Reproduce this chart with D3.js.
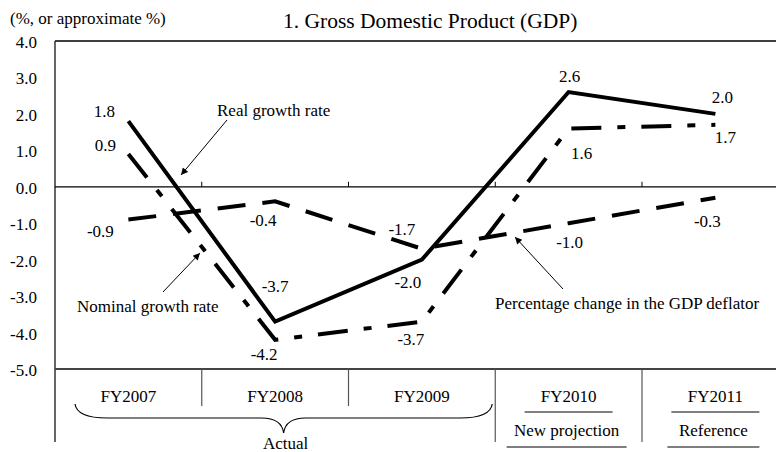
<!DOCTYPE html>
<html><head><meta charset="utf-8">
<script src="https://cdn.jsdelivr.net/npm/d3@7"></script>
<style>
body{margin:0;background:#fff}
svg{display:block}
text{font-family:"Liberation Serif","Times New Roman",serif;fill:#000}
</style>
</head><body>
<svg id="c" width="776" height="452"></svg>
<script>
// ---- data ----
const categories = ["FY2007", "FY2008", "FY2009", "FY2010", "FY2011"];
const realGrowth = [1.8, -3.7, -2.0, 2.6, 2.0];
const nominalGrowth = [0.9, -4.2, -3.7, 1.6, 1.7];
const deflatorChange = [-0.9, -0.4, -1.7, -1.0, -0.3];
const yTicks = [4, 3, 2, 1, 0, -1, -2, -3, -4, -5];
const subLabels = ["", "", "", "New projection", "Reference"];
const actualCategories = ["FY2007", "FY2008", "FY2009"];
const titleText = "1. Gross Domestic Product (GDP)";
const unitText = "(%, or approximate %)";

// ---- layout (pixel offsets of value labels relative to their points) ----
const realLabelOffsets = [[-24, -10], [0, -35], [-14, 23], [1, -16], [7, -16]];
const nominalLabelOffsets = [[-23, -8], [-11, 15], [-11, 18], [13, 25], [10, 13]];
const deflatorLabelOffsets = [[-28, 12], [-12, 19], [-20, -19], [1, 19], [-8, 24]];

(function () {
const svg = d3.select("#c");
const pLeft = 55, pTop = 41, pBottom = 369;
const x = d3.scaleBand().domain(categories).range([pLeft, pLeft + 5 * 146.75]).padding(0);
const y = d3.scaleLinear().domain([-5, 4]).range([pBottom, pTop]);
const cx = c => x(c) + x.bandwidth() / 2;
const pRight = x.range()[1];

// titles
svg.append("text").attr("x", 10).attr("y", 23.5).attr("font-size", 17).text(unitText);
svg.append("text").attr("x", 283).attr("y", 28).attr("font-size", 21.5).text(titleText);

// frame
svg.append("line").attr("x1", pLeft).attr("x2", pRight).attr("y1", pTop).attr("y2", pTop)
  .attr("stroke", "#000").attr("stroke-width", 1.5);
svg.append("line").attr("x1", pLeft).attr("x2", pLeft).attr("y1", pTop).attr("y2", 442)
  .attr("stroke", "#333").attr("stroke-width", 1.5);
svg.append("line").attr("x1", pLeft).attr("x2", pRight).attr("y1", y(-5)).attr("y2", y(-5))
  .attr("stroke", "#444").attr("stroke-width", 2);

// zero line with upward ticks
svg.append("line").attr("x1", pLeft).attr("x2", pRight).attr("y1", y(0)).attr("y2", y(0))
  .attr("stroke", "#000").attr("stroke-width", 1.2);
categories.slice(1).forEach(c => {
  svg.append("line").attr("x1", x(c)).attr("x2", x(c)).attr("y1", y(0) - 5).attr("y2", y(0))
    .attr("stroke", "#000").attr("stroke-width", 1);
});

// y tick labels
svg.selectAll(".ytick").data(yTicks).enter().append("text")
  .attr("class", "ytick").attr("x", 37).attr("y", d => y(d) + 7)
  .attr("text-anchor", "end").attr("font-size", 17)
  .text(d => d.toFixed(1));

// category table
categories.slice(1).forEach((c, i) => {
  const isLong = i >= 2;
  svg.append("line").attr("x1", x(c)).attr("x2", x(c)).attr("y1", y(-5)).attr("y2", isLong ? 442 : 406)
    .attr("stroke", "#555").attr("stroke-width", 1.2);
});
svg.selectAll(".cat").data(categories).enter().append("text")
  .attr("class", "cat").attr("x", d => cx(d)).attr("y", 401.5)
  .attr("text-anchor", "middle").attr("font-size", 17).text(d => d);
const subWidths = [0, 0, 0, 120, 92];
categories.forEach((c, i) => {
  if (!subLabels[i]) return;
  svg.append("line").attr("x1", cx(c) - 44).attr("x2", cx(c) + 44).attr("y1", 412).attr("y2", 412)
    .attr("stroke", "#000").attr("stroke-width", 1.2);
  svg.append("text").attr("x", cx(c) - 2).attr("y", 436).attr("text-anchor", "middle")
    .attr("font-size", 17).text(subLabels[i]);
  svg.append("line").attr("x1", cx(c) - 2 - subWidths[i] / 2).attr("x2", cx(c) - 2 + subWidths[i] / 2)
    .attr("y1", 447).attr("y2", 447).attr("stroke", "#000").attr("stroke-width", 1.2);
});

// brace for "Actual"
const bL = x(actualCategories[0]) + 20;
const bR = x(actualCategories[actualCategories.length - 1]) + x.bandwidth() - 3;
const bM = (bL + bR) / 2;
const bTop = 404, bMid = 418, bTip = 433;
svg.append("path")
  .attr("d", `M${bL},${bTop} Q${bL + 2},${bMid} ${bL + 32},${bMid} L${bM - 22},${bMid} Q${bM - 2},${bMid} ${bM},${bTip} Q${bM + 2},${bMid} ${bM + 22},${bMid} L${bR - 32},${bMid} Q${bR - 2},${bMid} ${bR},${bTop}`)
  .attr("fill", "none").attr("stroke", "#000").attr("stroke-width", 1.2);
svg.append("text").attr("x", bM + 2).attr("y", 449).attr("text-anchor", "middle")
  .attr("font-size", 17).text("Actual");

// series
const line = d3.line().x((d, i) => cx(categories[i])).y(d => y(d));
const series = [
  { values: deflatorChange, dash: "28,17", offsets: deflatorLabelOffsets },
  { values: nominalGrowth, dash: "30,16,8,16", offsets: nominalLabelOffsets },
  { values: realGrowth, dash: null, offsets: realLabelOffsets }
];
series.forEach(s => {
  svg.append("path").attr("d", line(s.values)).attr("fill", "none")
    .attr("stroke", "#000").attr("stroke-width", 4)
    .attr("stroke-linejoin", "miter").attr("stroke-linecap", "butt")
    .attr("stroke-dasharray", s.dash);
});
series.forEach(s => {
  s.values.forEach((v, i) => {
    svg.append("text")
      .attr("x", cx(categories[i]) + s.offsets[i][0])
      .attr("y", y(v) + s.offsets[i][1] + 5.5)
      .attr("text-anchor", "middle").attr("font-size", 17)
      .text(v.toFixed(1));
  });
});

// annotations with arrows
svg.append("defs").append("marker").attr("id", "ah")
  .attr("viewBox", "0 0 10 10").attr("refX", 10).attr("refY", 5)
  .attr("markerWidth", 9).attr("markerHeight", 7).attr("markerUnits", "userSpaceOnUse")
  .attr("orient", "auto")
  .append("path").attr("d", "M0,0 L10,5 L0,10 Z").attr("fill", "#000");
const annotations = [
  { text: "Real growth rate", tx: 217, ty: 116, from: [227, 120], to: [181, 175] },
  { text: "Nominal growth rate", tx: 77, ty: 312, from: [163, 292], to: [200, 253] },
  { text: "Percentage change in the GDP deflator", tx: 495, ty: 309, from: [563, 289], to: [515, 237] }
];
annotations.forEach(a => {
  svg.append("line").attr("x1", a.from[0]).attr("y1", a.from[1]).attr("x2", a.to[0]).attr("y2", a.to[1])
    .attr("stroke", "#000").attr("stroke-width", 1).attr("marker-end", "url(#ah)");
  svg.append("text").attr("x", a.tx).attr("y", a.ty).attr("font-size", 17).text(a.text);
});
})();
</script>
</body></html>
